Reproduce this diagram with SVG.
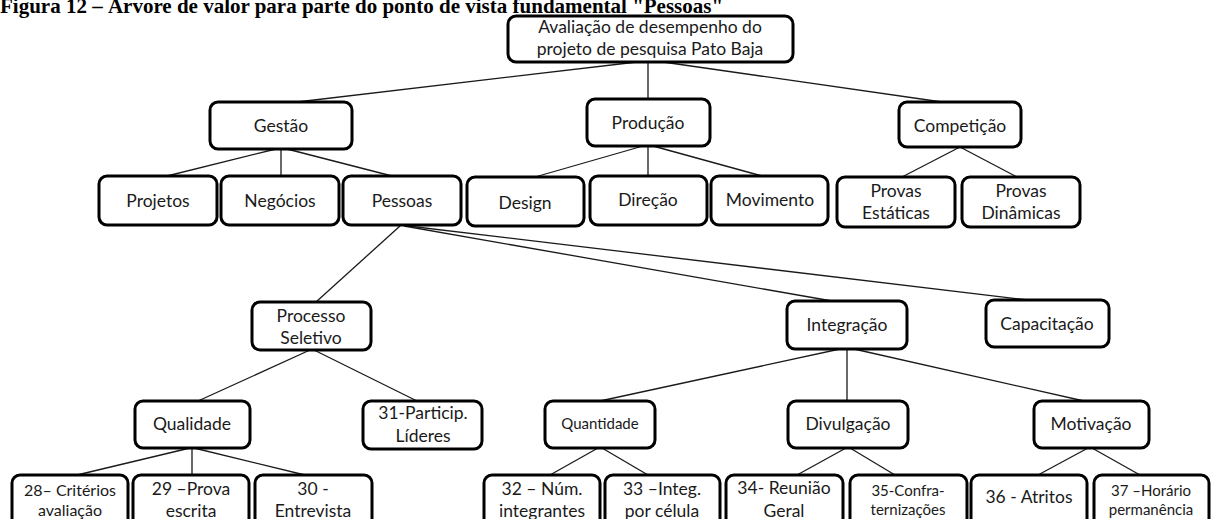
<svg xmlns="http://www.w3.org/2000/svg" width="1211" height="519" viewBox="0 0 1211 519">
  <style>
    .box { fill: #ffffff; stroke: #000000; stroke-width: 3; }
    .lbl { font-family: Lato, "Liberation Sans", sans-serif; font-size: 17.5px; fill: #1a1a1a; text-anchor: middle; }
    .sm { font-size: 15px; }
    .md { font-size: 16px; }
    .title { font-family: "Liberation Serif", serif; font-weight: bold; font-size: 21px; fill: #000000; }
    .edge { stroke: #1a1a1a; stroke-width: 1.3; fill: none; }
  </style>

  <rect width="1211" height="519" fill="#ffffff"/>

  <text class="title" x="0" y="13">Figura 12 – Árvore de valor para parte do ponto de vista fundamental  "Pessoas"</text>

  <!-- connectors -->
  <g id="connectors">
    <line class="edge" x1="637" y1="62" x2="297" y2="102"/>
    <line class="edge" x1="648" y1="62" x2="648" y2="99"/>
    <line class="edge" x1="663" y1="62" x2="942" y2="102"/>

    <line class="edge" x1="276" y1="149" x2="167" y2="176"/>
    <line class="edge" x1="281" y1="149" x2="281" y2="176"/>
    <line class="edge" x1="287" y1="149" x2="392" y2="176"/>

    <line class="edge" x1="643" y1="146" x2="535" y2="177"/>
    <line class="edge" x1="648" y1="146" x2="648" y2="176"/>
    <line class="edge" x1="653" y1="146" x2="762" y2="176"/>

    <line class="edge" x1="960" y1="147" x2="902" y2="177"/>
    <line class="edge" x1="960" y1="147" x2="1017" y2="177"/>

    <line class="edge" x1="400" y1="226" x2="316" y2="302"/>
    <line class="edge" x1="404" y1="226" x2="832" y2="301"/>
    <line class="edge" x1="408" y1="226" x2="1028" y2="300"/>

    <line class="edge" x1="310" y1="350" x2="198" y2="401"/>
    <line class="edge" x1="314" y1="350" x2="417" y2="401"/>

    <line class="edge" x1="190" y1="448" x2="77" y2="475"/>
    <line class="edge" x1="192" y1="448" x2="192" y2="475"/>
    <line class="edge" x1="194" y1="448" x2="305" y2="475"/>

    <line class="edge" x1="840" y1="349" x2="600" y2="401"/>
    <line class="edge" x1="847" y1="349" x2="847" y2="401"/>
    <line class="edge" x1="854" y1="349" x2="1084" y2="401"/>

    <line class="edge" x1="598" y1="448" x2="550" y2="475"/>
    <line class="edge" x1="602" y1="448" x2="648" y2="475"/>

    <line class="edge" x1="846" y1="448" x2="797" y2="475"/>
    <line class="edge" x1="850" y1="448" x2="895" y2="475"/>

    <line class="edge" x1="1088" y1="448" x2="1038" y2="475"/>
    <line class="edge" x1="1092" y1="448" x2="1140" y2="475"/>
  </g>

  <!-- level 1 -->
  <g id="n-avaliacao">
    <rect class="box" x="508" y="16" width="285" height="46" rx="8"/>
    <text class="lbl" x="650" y="33">Avaliação de desempenho do</text>
    <text class="lbl" x="650" y="55">projeto de pesquisa Pato Baja</text>
  </g>

  <!-- level 2 -->
  <g id="n-gestao">
    <rect class="box" x="210" y="102" width="142" height="47" rx="8"/>
    <text class="lbl" x="281" y="132">Gestão</text>
  </g>
  <g id="n-producao">
    <rect class="box" x="587" y="99" width="123" height="47" rx="8"/>
    <text class="lbl" x="648" y="129">Produção</text>
  </g>
  <g id="n-competicao">
    <rect class="box" x="899" y="102" width="122" height="45" rx="8"/>
    <text class="lbl" x="960" y="132">Competição</text>
  </g>

  <!-- level 3 -->
  <g id="n-projetos">
    <rect class="box" x="99" y="176" width="118" height="49" rx="8"/>
    <text class="lbl" x="158" y="207">Projetos</text>
  </g>
  <g id="n-negocios">
    <rect class="box" x="221" y="176" width="118" height="49" rx="8"/>
    <text class="lbl" x="280" y="207">Negócios</text>
  </g>
  <g id="n-pessoas">
    <rect class="box" x="343" y="176" width="118" height="49" rx="8"/>
    <text class="lbl" x="402" y="207">Pessoas</text>
  </g>
  <g id="n-design">
    <rect class="box" x="467" y="177" width="117" height="49" rx="8"/>
    <text class="lbl" x="525" y="209">Design</text>
  </g>
  <g id="n-direcao">
    <rect class="box" x="590" y="176" width="117" height="49" rx="8"/>
    <text class="lbl" x="648" y="206">Direção</text>
  </g>
  <g id="n-movimento">
    <rect class="box" x="711" y="176" width="117" height="49" rx="8"/>
    <text class="lbl" x="770" y="206">Movimento</text>
  </g>
  <g id="n-provas-estaticas">
    <rect class="box" x="837" y="177" width="118" height="50" rx="8"/>
    <text class="lbl" x="896" y="197">Provas</text>
    <text class="lbl" x="896" y="219">Estáticas</text>
  </g>
  <g id="n-provas-dinamicas">
    <rect class="box" x="962" y="177" width="118" height="50" rx="8"/>
    <text class="lbl" x="1021" y="197">Provas</text>
    <text class="lbl" x="1021" y="219">Dinâmicas</text>
  </g>

  <!-- level 4 -->
  <g id="n-processo-seletivo">
    <rect class="box" x="252" y="302" width="119" height="48" rx="8"/>
    <text class="lbl" x="311" y="322">Processo</text>
    <text class="lbl" x="311" y="344">Seletivo</text>
  </g>
  <g id="n-integracao">
    <rect class="box" x="787" y="301" width="120" height="48" rx="8"/>
    <text class="lbl" x="847" y="331">Integração</text>
  </g>
  <g id="n-capacitacao">
    <rect class="box" x="986" y="300" width="123" height="47" rx="8"/>
    <text class="lbl" x="1047" y="330">Capacitação</text>
  </g>

  <!-- level 5 -->
  <g id="n-qualidade">
    <rect class="box" x="135" y="401" width="115" height="47" rx="8"/>
    <text class="lbl" x="192" y="430">Qualidade</text>
  </g>
  <g id="n-31">
    <rect class="box" x="363" y="401" width="119" height="48" rx="8"/>
    <text class="lbl" x="423" y="419">31-Particip.</text>
    <text class="lbl" x="423" y="442">Líderes</text>
  </g>
  <g id="n-quantidade">
    <rect class="box" x="545" y="401" width="110" height="47" rx="8"/>
    <text class="lbl sm" x="600" y="429">Quantidade</text>
  </g>
  <g id="n-divulgacao">
    <rect class="box" x="788" y="401" width="120" height="47" rx="8"/>
    <text class="lbl" x="848" y="430">Divulgação</text>
  </g>
  <g id="n-motivacao">
    <rect class="box" x="1034" y="401" width="115" height="47" rx="8"/>
    <text class="lbl" x="1091" y="430">Motivação</text>
  </g>

  <!-- level 6 -->
  <g id="n-28">
    <rect class="box" x="12" y="475" width="116" height="52" rx="8"/>
    <text class="lbl md" x="70" y="496">28– Critérios</text>
    <text class="lbl md" x="70" y="516">avaliação</text>
  </g>
  <g id="n-29">
    <rect class="box" x="133" y="475" width="116" height="52" rx="8"/>
    <text class="lbl" x="191" y="495">29 –Prova</text>
    <text class="lbl" x="191" y="517">escrita</text>
  </g>
  <g id="n-30">
    <rect class="box" x="255" y="475" width="117" height="52" rx="8"/>
    <text class="lbl" x="313" y="495">30 -</text>
    <text class="lbl" x="313" y="517">Entrevista</text>
  </g>
  <g id="n-32">
    <rect class="box" x="484" y="475" width="116" height="52" rx="8"/>
    <text class="lbl" x="542" y="495">32  – Núm.</text>
    <text class="lbl" x="542" y="517">integrantes</text>
  </g>
  <g id="n-33">
    <rect class="box" x="605" y="475" width="115" height="52" rx="8"/>
    <text class="lbl" x="662" y="495">33 –Integ.</text>
    <text class="lbl" x="662" y="517">por célula</text>
  </g>
  <g id="n-34">
    <rect class="box" x="726" y="475" width="117" height="52" rx="8"/>
    <text class="lbl" x="784" y="494">34- Reunião</text>
    <text class="lbl" x="784" y="517">Geral</text>
  </g>
  <g id="n-35">
    <rect class="box" x="850" y="475" width="117" height="52" rx="8"/>
    <text class="lbl sm" x="908" y="496">35-Confra-</text>
    <text class="lbl sm" x="908" y="515">ternizações</text>
  </g>
  <g id="n-36">
    <rect class="box" x="971" y="475" width="116" height="52" rx="8"/>
    <text class="lbl" x="1029" y="503">36 - Atritos</text>
  </g>
  <g id="n-37">
    <rect class="box" x="1094" y="475" width="115" height="52" rx="8"/>
    <text class="lbl sm" x="1151" y="496">37 –Horário</text>
    <text class="lbl sm" x="1151" y="515">permanência</text>
  </g>
</svg>
